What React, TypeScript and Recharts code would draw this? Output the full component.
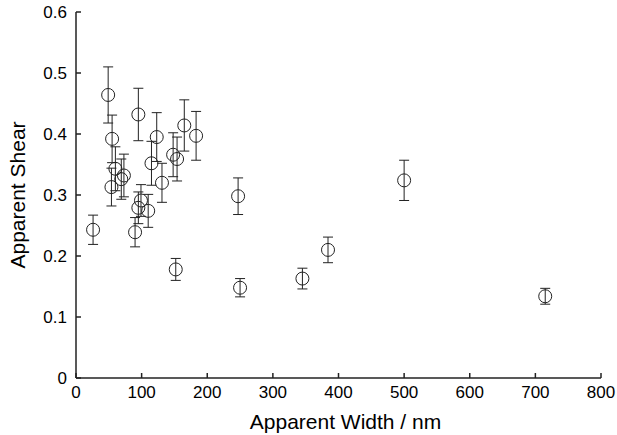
import React from 'react';
import { ScatterChart, Scatter, XAxis, YAxis, ErrorBar } from 'recharts';

// apparent width (nm), apparent shear, and the +/- error on shear
const widths = [26, 49, 55, 54, 60, 69, 73, 95, 90, 95, 99, 110, 115, 123, 131, 148, 154, 165, 183, 152, 247, 250, 345, 384, 500, 715];
const shears = [0.243, 0.464, 0.392, 0.313, 0.343, 0.326, 0.332, 0.432, 0.239, 0.279, 0.291, 0.274, 0.352, 0.395, 0.32, 0.366, 0.359, 0.414, 0.397, 0.178, 0.298, 0.148, 0.163, 0.21, 0.324, 0.134];
const errors = [0.024, 0.046, 0.039, 0.031, 0.036, 0.033, 0.035, 0.043, 0.024, 0.026, 0.026, 0.027, 0.036, 0.04, 0.032, 0.036, 0.036, 0.042, 0.04, 0.018, 0.03, 0.015, 0.017, 0.021, 0.033, 0.013];

const xTicks = [0, 100, 200, 300, 400, 500, 600, 700, 800];
const yTicks = [0, 0.1, 0.2, 0.3, 0.4, 0.5, 0.6];

const data = widths.map((w, i) => ({ width: w, shear: shears[i], err: errors[i] }));

const font = '"Liberation Sans", Arial, Helvetica, sans-serif';
const ink = '#222';

const fmtY = (v: number) => (v === 0 ? '0' : v.toFixed(1));
const blank = () => '';

const OpenCircle = (props: any) => {
  const { cx, cy } = props;
  return <circle cx={cx} cy={cy} r={6.5} fill="none" stroke={ink} strokeWidth={1} />;
};

export default function App() {
  return (
    <div style={{ position: 'absolute', left: 0, top: 0, background: '#fff' }}>
      <ScatterChart width={617} height={435} margin={{ top: 12, right: 16, bottom: 0, left: 0 }}>
        <XAxis
          type="number"
          dataKey="width"
          domain={[0, 800]}
          ticks={xTicks}
          height={57}
          tickSize={-5}
          tickMargin={13}
          stroke={ink}
          strokeWidth={1.5}
          tick={{ fill: '#000', fontSize: 17, fontFamily: font }}
          label={{ value: 'Apparent Width / nm', position: 'insideBottom', offset: 6, dx: 7, fill: '#000', fontSize: 21, fontFamily: font }}
        />
        <XAxis
          xAxisId="top"
          orientation="top"
          type="number"
          domain={[0, 800]}
          ticks={xTicks}
          height={0}
          tickSize={-5}
          stroke={ink}
          strokeWidth={1.5}
          tickFormatter={blank}
        />
        <YAxis
          type="number"
          dataKey="shear"
          domain={[0, 0.6]}
          ticks={yTicks}
          width={76}
          tickSize={-5}
          tickMargin={14}
          stroke={ink}
          strokeWidth={1.5}
          tickFormatter={fmtY}
          tick={{ fill: '#000', fontSize: 17, fontFamily: font }}
          label={{ value: 'Apparent Shear', angle: -90, position: 'insideLeft', offset: 18, fill: '#000', fontSize: 21, fontFamily: font, style: { textAnchor: 'middle' } }}
        />
        <YAxis
          yAxisId="right"
          orientation="right"
          type="number"
          domain={[0, 0.6]}
          ticks={yTicks}
          width={0}
          tickSize={-5}
          stroke={ink}
          strokeWidth={1.5}
          tickFormatter={blank}
        />
        <Scatter data={data} shape={OpenCircle} isAnimationActive={false}>
          <ErrorBar dataKey="err" direction="y" width={5} stroke={ink} strokeWidth={1} isAnimationActive={false} />
        </Scatter>
      </ScatterChart>
    </div>
  );
}
